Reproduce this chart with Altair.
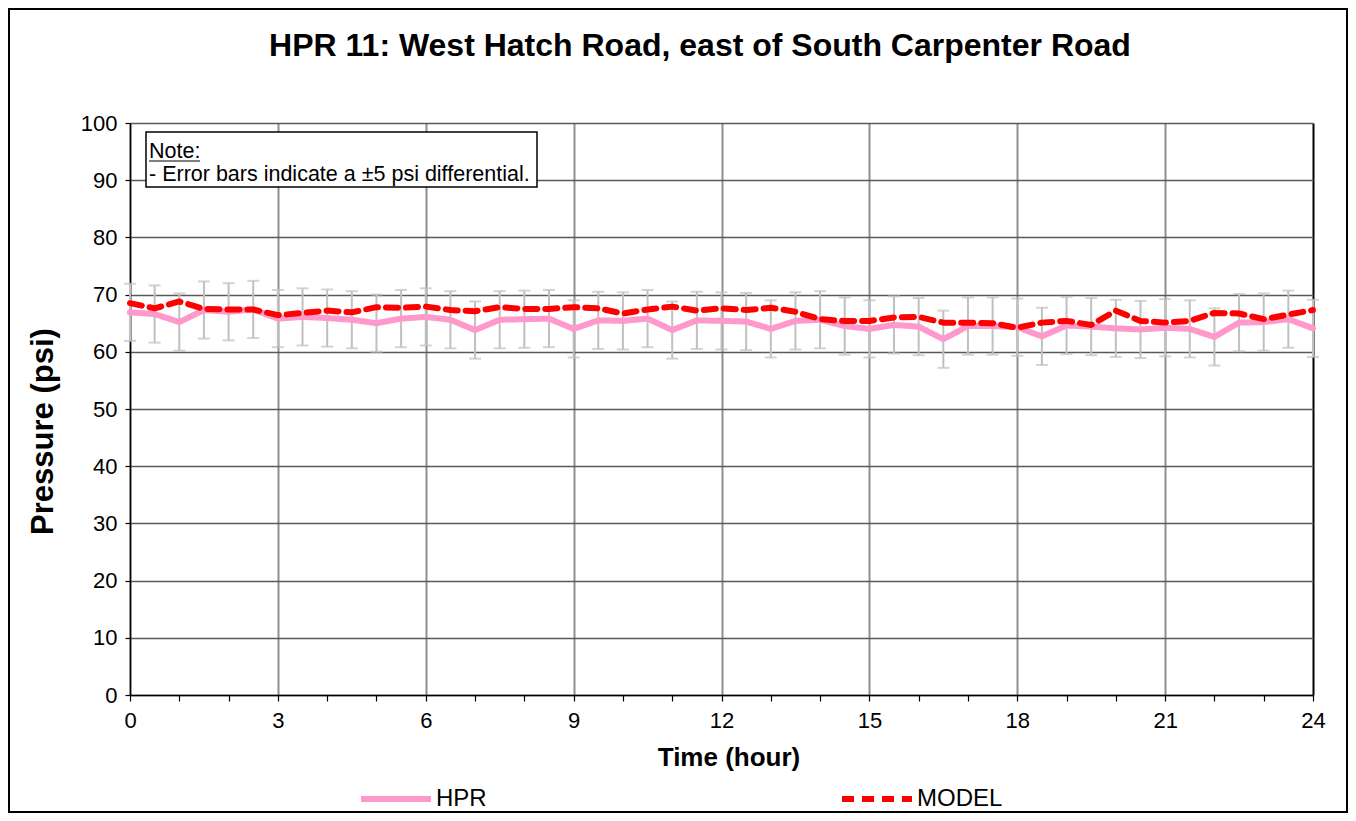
import altair as alt
import pandas as pd

# ---- data ----
hours = [0, 0.5, 1, 1.5, 2, 2.5, 3, 3.5, 4, 4.5, 5, 5.5, 6, 6.5, 7, 7.5, 8, 8.5,
         9, 9.5, 10, 10.5, 11, 11.5, 12, 12.5, 13, 13.5, 14, 14.5, 15, 15.5, 16,
         16.5, 17, 17.5, 18, 18.5, 19, 19.5, 20, 20.5, 21, 21.5, 22, 22.5, 23,
         23.5, 24]
hpr = [66.9, 66.6, 65.2, 67.3, 67.0, 67.4, 65.8, 66.1, 65.9, 65.6, 65.0, 65.8,
       66.1, 65.6, 63.8, 65.6, 65.7, 65.8, 64.0, 65.5, 65.4, 65.8, 63.8, 65.5,
       65.4, 65.3, 64.0, 65.4, 65.6, 64.5, 64.0, 64.7, 64.4, 62.2, 64.5, 64.5,
       64.3, 62.7, 64.6, 64.4, 64.1, 63.9, 64.2, 64.0, 62.6, 65.1, 65.2, 65.7,
       64.1]
model = [68.5, 67.6, 68.8, 67.5, 67.4, 67.4, 66.4, 66.8, 67.2, 66.9, 67.8, 67.7,
         67.9, 67.3, 67.1, 67.8, 67.5, 67.5, 67.8, 67.6, 66.7, 67.4, 67.9, 67.2,
         67.6, 67.3, 67.7, 67.0, 65.7, 65.4, 65.4, 66.0, 66.1, 65.1, 65.1, 65.0,
         64.2, 65.1, 65.4, 64.7, 67.2, 65.4, 65.1, 65.4, 66.8, 66.7, 65.7, 66.5,
         67.3]
series_names = ["HPR", "MODEL"]
series_colors = ["#ff99cc", "#ff0000"]
error_margin = 5
x_ticks = list(range(0, 25))
y_ticks = list(range(0, 101, 5))
title_text = "HPR 11: West Hatch Road, east of South Carpenter Road"
note_title = "Note:"
note_body = "- Error bars indicate a \u00b15 psi differential."

FONT = "Liberation Sans"
W, H = 1183, 572

df = pd.DataFrame({"hour": hours, "HPR": hpr, "MODEL": model})
df["lo"] = df["HPR"] - error_margin
df["hi"] = df["HPR"] + error_margin
long = df.melt(id_vars=["hour"], value_vars=series_names,
               var_name="series", value_name="psi")

x_scale = alt.Scale(domain=[0, 24], nice=False, zero=False)
y_scale = alt.Scale(domain=[0, 100], nice=False)

x_axis = alt.Axis(
    values=x_ticks,
    labelExpr="datum.value % 3 === 0 ? datum.label : ''",
    title="Time (hour)", titleFont=FONT, titleFontSize=26, titleFontWeight="bold",
    titleColor="black", titleX=W / 2 + 7, titleY=62, titleBaseline="middle",
    labelFont=FONT, labelFontSize=22, labelColor="black", labelPadding=9,
    labelFlush=False,
    domainColor="black", domainWidth=1.5,
    tickColor="black", tickWidth=1.2, tickSize=6,
    grid=True,
    gridColor={"condition": {"test": "datum.value === 24", "value": "#000000"}, "value": "#8f8f8f"},
    gridWidth=2,
    gridOpacity={"condition": {"test": "datum.value % 3 === 0", "value": 1}, "value": 0},
)
y_axis = alt.Axis(
    values=y_ticks,
    labelExpr="datum.value % 10 === 0 ? datum.label : ''",
    title="Pressure (psi)", titleFont=FONT, titleFontSize=31, titleFontWeight="bold",
    titleColor="black", titleAngle=-90, titleX=-87, titleY=308, titleBaseline="middle",
    titleAlign="center",
    labelFont=FONT, labelFontSize=22, labelColor="black", labelPadding=8,
    labelFlush=False,
    domainColor="black", domainWidth=1.5,
    tickColor="black", tickWidth=1.2, tickSize=5,
    grid=True,
    gridColor={"condition": {"test": "datum.value % 10 === 0", "value": "#5a5a5a"}, "value": "#c4c4c4"},
    gridWidth={"condition": {"test": "datum.value % 10 === 0", "value": 1.3}, "value": 2},
)

base = alt.Chart(df)

err_rule = base.mark_rule(color="#c0c0c0", strokeWidth=2).encode(
    x=alt.X("hour:Q", scale=x_scale, axis=x_axis),
    y=alt.Y("lo:Q", scale=y_scale, axis=y_axis),
    y2="hi:Q",
)
cap_lo = base.mark_tick(color="#c0c0c0", orient="horizontal", size=12, thickness=2).encode(
    x=alt.X("hour:Q", scale=x_scale), y=alt.Y("lo:Q", scale=y_scale))
cap_hi = base.mark_tick(color="#c0c0c0", orient="horizontal", size=12, thickness=2).encode(
    x=alt.X("hour:Q", scale=x_scale), y=alt.Y("hi:Q", scale=y_scale))

legend = alt.Legend(
    orient="none", legendX=228, legendY=638, direction="horizontal", title=None,
    symbolType="stroke", symbolSize=4900, symbolStrokeWidth=6,
    labelFont=FONT, labelFontSize=24, labelColor="black", labelOffset=2,
    columnPadding=343,
)
lines = alt.Chart(long).mark_line(strokeWidth=6, strokeCap="round", strokeJoin="round").encode(
    x=alt.X("hour:Q", scale=x_scale),
    y=alt.Y("psi:Q", scale=y_scale),
    color=alt.Color("series:N", scale=alt.Scale(domain=series_names, range=series_colors), legend=legend),
    strokeDash=alt.StrokeDash("series:N", scale=alt.Scale(domain=series_names, range=[[1, 0], [12, 8]]), legend=legend),
    order=alt.Order("hour:Q"),
)

one = alt.Chart(alt.Data(values=[{"a": 1}]))
note_box = one.mark_rect(fill="white", stroke="black", strokeWidth=1.5).encode(
    x=alt.value(16), x2=alt.value(407), y=alt.value(9), y2=alt.value(64))
note_t1 = one.mark_text(align="left", baseline="alphabetic", font=FONT, fontSize=21.5, color="black").encode(
    x=alt.value(19), y=alt.value(35), text=alt.value(note_title))
note_ul = one.mark_rule(color="black", strokeWidth=1.2).encode(
    x=alt.value(19), x2=alt.value(70), y=alt.value(38))
note_t2 = one.mark_text(align="left", baseline="alphabetic", font=FONT, fontSize=21.5, color="black").encode(
    x=alt.value(19), y=alt.value(58), text=alt.value(note_body))
title = one.mark_text(align="center", baseline="alphabetic", font=FONT, fontSize=32,
                      fontWeight="bold", color="black").encode(
    x=alt.value(570), y=alt.value(-67), text=alt.value(title_text))
frame = one.mark_rect(fill=None, stroke="black", strokeWidth=2).encode(
    x=alt.value(-121), x2=alt.value(1217), y=alt.value(-114), y2=alt.value(689))

chart = alt.layer(
    err_rule, cap_lo, cap_hi, lines, note_box, note_t1, note_ul, note_t2, title, frame
).properties(
    width=W, height=H,
    autosize=alt.AutoSizeParams(type="none"),
    padding={"left": 122, "top": 115, "right": 35, "bottom": 118},
    background="white",
).configure_view(stroke=None).configure(font=FONT)

chart.save("out.html", embed_options={"renderer": "svg", "actions": False})
